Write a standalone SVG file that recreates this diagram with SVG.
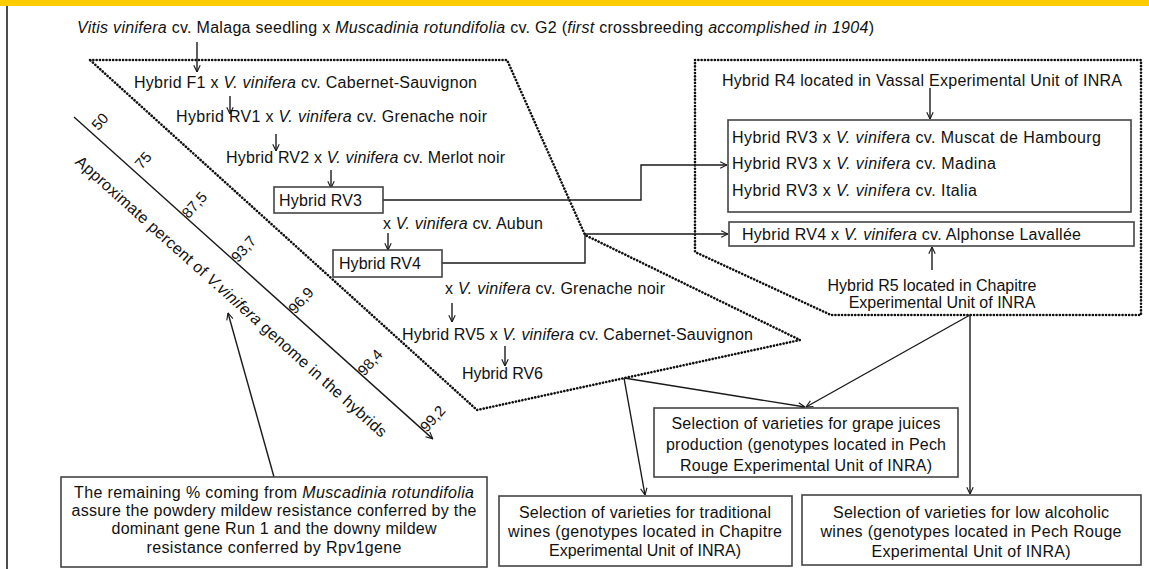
<svg xmlns="http://www.w3.org/2000/svg" width="1149" height="569" viewBox="0 0 1149 569">
<defs>
<style>
text{font-family:"Liberation Sans",Arial,sans-serif;font-size:16px;fill:#111}
.it{font-style:italic}
.box{fill:#fff;stroke:#444;stroke-width:1.6}
.dot{fill:none;stroke:#111;stroke-width:2.6;stroke-dasharray:0.1 3.2;stroke-linecap:round;stroke-linejoin:round}
.ln{fill:none;stroke:#1a1a1a;stroke-width:1.4}
.lbl{font-size:15px;text-anchor:middle;dominant-baseline:central}
.mid{text-anchor:middle}
</style>
<marker id="ah" viewBox="0 0 10 10" refX="9.5" refY="5" markerWidth="8" markerHeight="8" markerUnits="userSpaceOnUse" orient="auto">
<path d="M1,1 L9.5,5 L1,9" fill="none" stroke="#1a1a1a" stroke-width="1.4"/>
</marker>
</defs>
<rect x="0" y="0" width="1149" height="6" fill="#FFCC00"/>
<line x1="7" y1="6" x2="7" y2="569" stroke="#111" stroke-width="1.5"/>

<g id="regions">
<polygon class="dot" points="90,60 507,60 585,235 800,340 477,410"/>
<polygon class="dot" points="695,60 1141,60 1141,315 831,315 695,252"/>
</g>

<g id="connectors">
<line class="ln" x1="197" y1="42" x2="197" y2="72" marker-end="url(#ah)"/>
<line class="ln" x1="230" y1="96" x2="230" y2="114" marker-end="url(#ah)"/>
<line class="ln" x1="276" y1="134" x2="276" y2="151" marker-end="url(#ah)"/>
<line class="ln" x1="331" y1="170" x2="331" y2="188" marker-end="url(#ah)"/>
<line class="ln" x1="388" y1="233" x2="388" y2="250" marker-end="url(#ah)"/>
<line class="ln" x1="452" y1="303" x2="452" y2="322" marker-end="url(#ah)"/>
<line class="ln" x1="505" y1="346" x2="505" y2="366" marker-end="url(#ah)"/>
<polyline class="ln" points="383,200 641,200 641,165 727,165" marker-end="url(#ah)"/>
<polyline class="ln" points="442,263 585,263 585,234 728,234" marker-end="url(#ah)"/>
<line class="ln" x1="930" y1="88" x2="930" y2="119" marker-end="url(#ah)"/>
<line class="ln" x1="932" y1="270" x2="932" y2="247" marker-end="url(#ah)"/>
<line class="ln" x1="624" y1="378" x2="645" y2="495" marker-end="url(#ah)"/>
<line class="ln" x1="624" y1="378" x2="805" y2="407" marker-end="url(#ah)"/>
<line class="ln" x1="970" y1="315" x2="806" y2="407" marker-end="url(#ah)"/>
<line class="ln" x1="970" y1="315" x2="970" y2="494" marker-end="url(#ah)"/>
<line class="ln" x1="274" y1="477" x2="228" y2="313" marker-end="url(#ah)"/>
</g>

<g id="title">
<text x="77" y="33" textLength="797"><tspan class="it">Vitis vinifera</tspan> cv. Malaga seedling x <tspan class="it">Muscadinia rotundifolia</tspan> cv. G2 (<tspan class="it">first</tspan> crossbreeding <tspan class="it">accomplished in 1904</tspan>)</text>
</g>

<g id="scale">
<g transform="translate(74,117) rotate(41.9)">
<line class="ln" x1="0" y1="0" x2="482" y2="0" marker-end="url(#ah)"/>
<text class="lbl" transform="translate(22,-14) rotate(-90)">50</text>
<text class="lbl" transform="translate(80,-14) rotate(-90)">75</text>
<text class="lbl" transform="translate(148,-15) rotate(-90)">87,5</text>
<text class="lbl" transform="translate(214,-15) rotate(-90)">93,7</text>
<text class="lbl" transform="translate(291,-15) rotate(-90)">96,9</text>
<text class="lbl" transform="translate(384,-15) rotate(-90)">98,4</text>
<text class="lbl" transform="translate(468,-15) rotate(-90)">99,2</text>
<text x="31" y="34" textLength="412">Approximate percent of <tspan class="it">V.vinifera</tspan> genome in the hybrids</text>
</g>
</g>

<g id="f1"><text x="134" y="88" textLength="343">Hybrid F1 x <tspan class="it">V. vinifera</tspan> cv. Cabernet-Sauvignon</text></g>
<g id="rv1"><text x="176" y="122" textLength="311">Hybrid RV1 x <tspan class="it">V. vinifera</tspan> cv. Grenache noir</text></g>
<g id="rv2"><text x="226" y="163" textLength="279">Hybrid RV2 x <tspan class="it">V. vinifera</tspan> cv. Merlot noir</text></g>
<g id="rv3"><rect class="box" x="274" y="187" width="109" height="26"/><text x="279" y="206" textLength="83">Hybrid RV3</text></g>
<g id="aubun"><text x="383" y="229" textLength="160">x <tspan class="it">V. vinifera</tspan> cv. Aubun</text></g>
<g id="rv4"><rect class="box" x="333" y="250" width="109" height="27"/><text x="339" y="269" textLength="82">Hybrid RV4</text></g>
<g id="grenache"><text x="445" y="294" textLength="220">x <tspan class="it">V. vinifera</tspan> cv. Grenache noir</text></g>
<g id="rv5"><text x="402" y="340" textLength="351">Hybrid RV5 x <tspan class="it">V. vinifera</tspan> cv. Cabernet-Sauvignon</text></g>
<g id="rv6"><text x="462" y="379" textLength="81">Hybrid RV6</text></g>

<g id="r4"><text x="722" y="86" textLength="400">Hybrid R4 located in Vassal Experimental Unit of INRA</text></g>
<g id="rv3crosses">
<rect class="box" x="728" y="120" width="403" height="92"/>
<text x="732" y="143" textLength="369">Hybrid RV3 x <tspan class="it">V. vinifera</tspan> cv. Muscat de Hambourg</text>
<text x="732" y="169" textLength="264">Hybrid RV3 x <tspan class="it">V. vinifera</tspan> cv. Madina</text>
<text x="732" y="196" textLength="245">Hybrid RV3 x <tspan class="it">V. vinifera</tspan> cv. Italia</text>
</g>
<g id="rv4cross"><rect class="box" x="729" y="222" width="405" height="24"/><text x="742" y="240" textLength="339">Hybrid RV4 x <tspan class="it">V. vinifera</tspan> cv. Alphonse Lavallée</text></g>
<g id="r5">
<text x="932" y="291" class="mid">Hybrid R5 located in Chapitre</text>
<text x="942" y="308" class="mid">Experimental Unit of INRA</text>
</g>

<g id="grape">
<rect class="box" x="654" y="408" width="304" height="69"/>
<text x="806" y="429" class="mid" textLength="269">Selection of varieties for grape juices</text>
<text x="806" y="450" class="mid" textLength="280">production (genotypes located in Pech</text>
<text x="806" y="471" class="mid" textLength="252">Rouge Experimental Unit of INRA)</text>
</g>
<g id="traditional">
<rect class="box" x="499" y="496" width="293" height="70"/>
<text x="645" y="518" class="mid" textLength="252">Selection of varieties for traditional</text>
<text x="645" y="537" class="mid" textLength="274">wines (genotypes located in Chapitre</text>
<text x="645" y="556" class="mid" textLength="192">Experimental Unit of INRA)</text>
</g>
<g id="lowalc">
<rect class="box" x="802" y="495" width="339" height="70"/>
<text x="971" y="518" class="mid" textLength="276">Selection of varieties for low alcoholic</text>
<text x="971" y="537" class="mid" textLength="301">wines (genotypes located in Pech Rouge</text>
<text x="971" y="557" class="mid" textLength="199">Experimental Unit of INRA)</text>
</g>
<g id="remaining">
<rect class="box" x="61" y="477" width="426" height="90"/>
<text x="274" y="498" class="mid" textLength="400">The remaining % coming from <tspan class="it">Muscadinia  rotundifolia</tspan></text>
<text x="274" y="516" class="mid" textLength="405">assure the powdery mildew resistance conferred by the</text>
<text x="274" y="534" class="mid" textLength="325">dominant gene Run 1 and the downy mildew</text>
<text x="274" y="553" class="mid" textLength="255">resistance conferred by Rpv1gene</text>
</g>
</svg>
